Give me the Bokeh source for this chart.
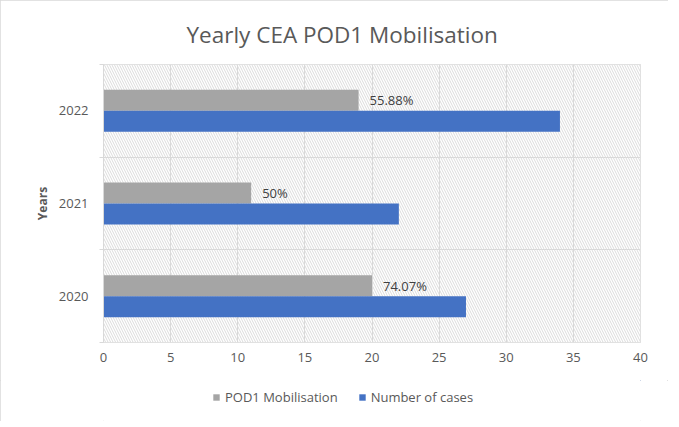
import numpy as np
from bokeh.plotting import figure
from bokeh.layouts import column
from bokeh.models import (BoxAnnotation, FixedTicker, Legend, LegendItem,
                          ColumnDataSource, Title)
from bokeh.embed import file_html
from bokeh.resources import INLINE
from bokeh.core.properties import value


years = ["2020", "2021", "2022"]
pod1 = [20, 11, 19]
cases = [27, 22, 34]
pct_labels = ["74.07%", "50%", "55.88%"]
x_ticks = [0, 5, 10, 15, 20, 25, 30, 35, 40]
series = ["POD1 Mobilisation", "Number of cases"]
colors = ["#a5a5a5", "#4472c4"]

FONT = "Open Sans"
TXT = "#595959"
GRID = "#d9d9d9"

pos = np.arange(len(years)) + 0.5
bar_h = 0.227

src = ColumnDataSource(data=dict(
    gray_y=pos + bar_h / 2,
    blue_y=pos - bar_h / 2,
    pod1=pod1,
    cases=cases,
    label=pct_labels,
))

p = figure(width=668, height=380, x_range=(0, 40), y_range=(0, 3),
           output_backend="svg", toolbar_location=None,
           min_border_left=103, min_border_right=28,
           min_border_top=64, min_border_bottom=38)
p.background_fill_color = "white"
p.outline_line_color = GRID

# hatched plot area
p.add_layout(BoxAnnotation(fill_color="white", fill_alpha=1.0,
                           hatch_pattern="\\", hatch_color="#d2d2d2",
                           hatch_weight=0.8, hatch_scale=5,
                           line_color=None, level="image"))

p.hbar(y="gray_y", right="pod1", left=0, height=bar_h, source=src,
       fill_color=colors[0], line_color=None)
p.hbar(y="blue_y", right="cases", left=0, height=bar_h, source=src,
       fill_color=colors[1], line_color=None)

p.text(x="pod1", y="gray_y", text="label", source=src, x_offset=11,
       text_baseline="middle", text_align="left", text_color="#404040",
       text_font=value(FONT), text_font_size="13px")

# grids
p.xgrid.ticker = FixedTicker(ticks=x_ticks)
p.ygrid.ticker = FixedTicker(ticks=[0, 1, 2, 3])
p.grid.grid_line_color = GRID
p.grid.grid_line_width = 1

# x axis
p.xaxis.ticker = FixedTicker(ticks=x_ticks)
p.xaxis.axis_line_color = None
p.xaxis.major_tick_line_color = None
p.xaxis.minor_tick_line_color = None
p.xaxis.major_tick_out = 0
p.xaxis.major_label_standoff = 10
p.xaxis.major_label_text_font = FONT
p.xaxis.major_label_text_font_size = "13px"
p.xaxis.major_label_text_color = TXT

# y axis: labels at band centres, ticks at band edges
p.yaxis.ticker = FixedTicker(ticks=list(pos), minor_ticks=[0, 1, 2, 3])
p.yaxis.major_label_overrides = {float(v): y for v, y in zip(pos, years)}
p.yaxis.axis_line_color = GRID
p.yaxis.major_tick_line_color = None
p.yaxis.major_tick_out = 0
p.yaxis.major_tick_in = 0
p.yaxis.minor_tick_line_color = GRID
p.yaxis.minor_tick_out = 4
p.yaxis.minor_tick_in = 0
p.yaxis.major_label_standoff = 11
p.yaxis.major_label_text_font = FONT
p.yaxis.major_label_text_font_size = "13px"
p.yaxis.major_label_text_color = TXT
p.yaxis.axis_label = "Years"
p.yaxis.axis_label_text_font = FONT
p.yaxis.axis_label_text_font_size = "12px"
p.yaxis.axis_label_text_font_style = "bold"
p.yaxis.axis_label_text_color = TXT
p.yaxis.axis_label_standoff = 5

title = Title(text="Yearly CEA POD1 Mobilisation", align="left", offset=83,
              standoff=30, text_font=FONT, text_font_size="22.5px",
              text_font_style="normal", text_color=TXT)
p.add_layout(title, "above")

# legend lives in a thin strip under the chart (side-panel legends misbehave);
# its renderers use the same data but sit outside the strip's ranges
leg = figure(width=668, height=41, x_range=(-2, -1), y_range=(-2, -1),
             output_backend="svg", toolbar_location=None,
             x_axis_type=None, y_axis_type=None,
             min_border=0, outline_line_color=None)
leg.grid.visible = False
r_g = leg.hbar(y="gray_y", right="pod1", left=0, height=bar_h, source=src,
               fill_color=colors[0], line_color=None)
r_b = leg.hbar(y="blue_y", right="cases", left=0, height=bar_h, source=src,
               fill_color=colors[1], line_color=None)

legend = Legend(items=[LegendItem(label=series[0], renderers=[r_g]),
                       LegendItem(label=series[1], renderers=[r_b])],
                orientation="horizontal", location=(109, 15),
                padding=0, margin=0, spacing=20, label_standoff=5,
                glyph_width=8, glyph_height=8,
                label_text_font=FONT, label_text_font_size="13px",
                label_text_color=TXT, border_line_color=None,
                background_fill_alpha=0)
leg.add_layout(legend, "center")

page = column(p, leg, spacing=0)
page.styles = {"outline": "1px solid #d9d9d9", "outline-offset": "-1px"}

open("out.html", "w").write(file_html(page, INLINE))
